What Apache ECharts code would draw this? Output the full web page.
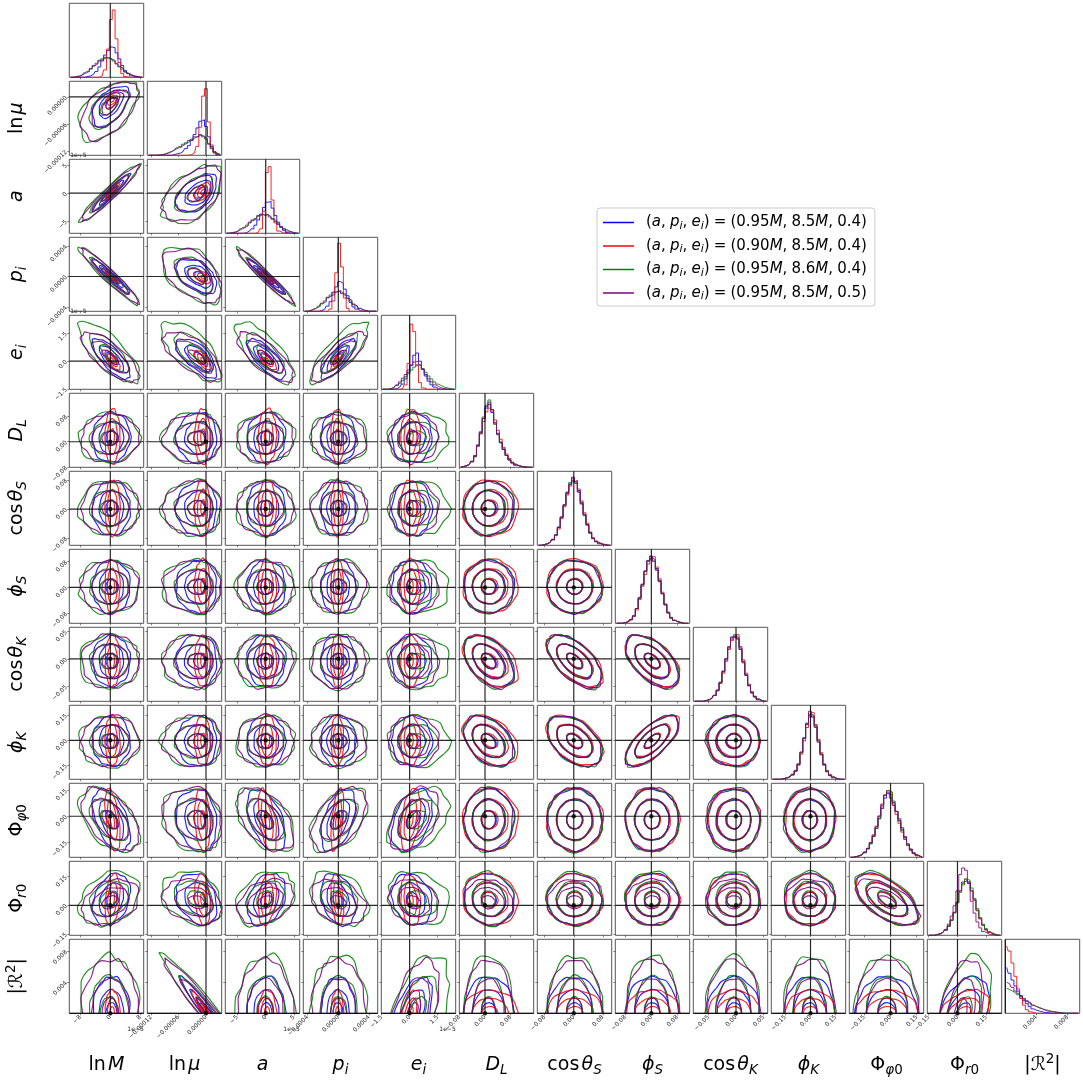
<!DOCTYPE html>
<html>
<head>
<meta charset="utf-8">
<style>html,body{margin:0;padding:0;background:#fff}#main{width:1083px;height:1083px}</style>
<script src="https://cdn.jsdelivr.net/npm/echarts@6/dist/echarts.min.js"></script>
</head>
<body>
<div id="main"></div>
<script>
// axis values are in the scaled units of the offset text (1e-5 etc)
var paramMin = [-10.93, -12.88, -7.14, -4.56, -1.52, -0.08, -0.1, -0.111, -0.0776, -0.234, -0.2365, -0.157, 0]
var paramMax = [8.9, 3.45, 6, 5.13, 2.47, 0.1516, 0.104, 0.118, 0.0576, 0.21, 0.19, 0.23, 9.55]
var truth = [0, 0, 0, 0, 0, 0, 0, 0, 0, 0, 0, 0, 0]
var tickValues = [[-8, 0, 8], [-12, -6, 0], [-5, 0, 5], [-4, 0, 4], [-1.5, 0, 1.5], [-0.08, 0, 0.08], [-0.08, 0, 0.08], [-0.08, 0, 0.08], [-0.05, 0, 0.05], [-0.15, 0, 0.15], [-0.15, 0, 0.15], [-0.15, 0, 0.15], [4, 8]]
var tickLabels = [
  ['−8', '0', '8'], ['−0.00012', '−0.00006', '0.00000'], ['−5', '0', '5'], ['−0.0004', '0.0000', '0.0004'],
  ['−1.5', '0.0', '1.5'], ['−0.08', '0.00', '0.08'], ['−0.08', '0.00', '0.08'], ['−0.08', '0.00', '0.08'],
  ['−0.05', '0.00', '0.05'], ['−0.15', '0.00', '0.15'], ['−0.15', '0.00', '0.15'], ['−0.15', '0.00', '0.15'], ['0.004', '0.008']
]
var axisTitles = [
  '{r|ln}{g| }{i|M}', '{r|ln}{g| }{i|μ}', '{i|a}', '{i|p}{s|i}', '{i|e}{s|i}', '{i|D}{s|L}',
  '{r|cos}{g| }{i|θ}{s|S}', '{i|ϕ}{s|S}', '{r|cos}{g| }{i|θ}{s|K}', '{i|ϕ}{s|K}',
  '{r|Φ}{s|φ}{t|0}', '{r|Φ}{s|r}{t|0}', '{r||ℛ}{u|2}{r||}'
]
var legendNames = ['(a, p_i, e_i) = (0.95M, 8.5M, 0.4)', '(a, p_i, e_i) = (0.90M, 8.5M, 0.4)', '(a, p_i, e_i) = (0.95M, 8.6M, 0.4)', '(a, p_i, e_i) = (0.95M, 8.5M, 0.5)']
var legendValues = [['0.95', '8.5', '0.4'], ['0.90', '8.5', '0.4'], ['0.95', '8.6', '0.4'], ['0.95', '8.5', '0.5']]
var colors = ['#0000ff', '#ff0000', '#008000', '#800080']

// histogram heights, percent of the panel, 26 bins across each axis
var histBlue = [
  [0,0,0,0,0,0,1,2,4,8,14,22,30,36,41,40,33,25,16,9,5,2,1,0,0,0],
  [0,0,0,0,0,0,0,0,0,1,2,3,5,9,13,20,28,37,46,48,39,25,12,4,1,0],
  [0,0,0,0,0,0,0,1,3,6,11,18,26,35,42,43,34,24,15,8,4,1,0,0,0,0],
  [0,0,0,0,0,0,1,3,7,13,22,33,40,38,30,21,12,6,3,1,0,0,0,0,0,0],
  [0,0,0,0,0,1,3,7,14,23,33,46,49,38,27,18,11,6,3,1,0,0,0,0,0,0],
  [0,1,2,4,8,16,30,48,66,80,85,74,60,46,34,24,16,10,6,3,2,1,0,0,0,0],
  [0,0,1,2,4,8,14,24,38,54,70,82,88,84,74,58,42,28,17,10,5,3,1,1,0,0],
  [0,0,0,1,2,5,10,20,34,52,70,84,88,86,74,58,40,25,14,7,4,2,1,0,0,0],
  [0,0,0,0,1,2,4,8,15,25,40,56,72,84,88,86,72,54,36,22,12,6,3,1,0,0],
  [0,0,0,0,1,2,3,6,11,20,36,55,74,88,86,72,52,34,20,11,6,3,1,0,0,0],
  [0,0,1,2,4,7,12,19,28,39,52,66,80,86,84,74,62,50,38,27,18,11,6,3,1,0],
  [0,0,0,1,2,4,7,12,20,31,44,60,72,74,70,60,48,34,23,14,8,4,2,1,0,0],
  [62,54,45,37,30,23,17,13,9,6,4,3,2,1,1,0,0,0,0,0,0,0,0,0,0,0]
]
var histRed = [
  [0,0,0,0,0,0,0,0,0,0,0,2,10,38,78,91,52,20,5,1,0,0,0,0,0,0],
  [0,0,0,0,0,0,0,0,0,0,0,0,0,0,0,1,3,12,38,80,90,45,14,3,0,0],
  [0,0,0,0,0,0,0,0,0,0,0,1,6,30,82,90,45,14,3,1,0,0,0,0,0,0],
  [0,0,0,0,0,0,0,0,0,3,14,52,92,60,18,4,0,0,0,0,0,0,0,0,0,0],
  [0,0,0,0,0,0,0,1,6,35,88,78,32,9,2,0,0,0,0,0,0,0,0,0,0,0],
  [0,1,2,4,8,15,29,45,62,75,80,76,64,50,38,27,18,12,7,4,2,1,1,0,0,0],
  [0,0,1,2,4,7,13,22,36,52,68,80,86,88,76,60,44,30,18,10,6,3,2,1,0,0],
  [0,0,0,1,2,4,9,18,32,50,66,80,86,90,76,60,42,26,15,8,4,2,1,0,0,0],
  [0,0,0,0,1,2,4,8,14,24,38,54,70,82,86,90,74,56,38,23,13,7,3,1,0,0],
  [0,0,0,0,1,2,3,6,11,19,34,52,70,84,90,74,54,36,21,12,6,3,1,0,0,0],
  [0,0,1,2,4,7,12,20,30,41,55,70,84,90,88,72,58,46,34,24,16,9,5,2,1,0],
  [0,0,0,1,2,4,7,13,21,31,45,60,70,76,72,60,47,33,22,13,7,4,2,1,0,0],
  [91,84,68,50,33,20,11,5,2,1,0,0,0,0,0,0,0,0,0,0,0,0,0,0,0,0]
]
var histGreen = [
  [0,0,1,2,3,5,8,11,15,19,22,25,26,26,25,22,19,15,11,8,5,3,2,1,0,0],
  [0,0,0,0,1,1,2,4,5,7,9,12,14,17,19,22,24,26,27,26,22,16,10,4,2,1],
  [0,0,1,2,3,5,8,11,14,17,20,23,25,25,25,23,20,16,13,9,6,4,2,1,0,0],
  [0,0,1,2,4,7,10,14,18,22,25,27,27,25,22,18,14,10,7,4,2,1,0,0,0,0],
  [0,0,0,1,2,5,8,12,17,21,26,30,33,32,28,23,18,14,10,7,5,3,2,1,0,0],
  [0,1,2,4,7,14,28,47,68,84,91,78,58,44,34,25,16,10,6,4,2,1,1,0,0,0],
  [0,0,1,2,4,8,14,25,38,54,72,85,91,84,72,56,40,27,16,9,5,3,1,0,0,0],
  [0,0,0,1,2,5,10,20,34,52,70,84,90,84,72,56,40,26,15,8,4,2,1,0,0,0],
  [0,0,0,0,1,2,4,8,15,25,40,57,73,86,90,85,70,53,35,21,12,6,3,1,0,0],
  [0,0,0,0,1,2,3,6,11,20,36,56,76,86,84,72,52,34,20,11,5,3,1,0,0,0],
  [0,0,1,2,3,6,11,18,28,39,53,68,84,90,88,76,62,49,36,25,16,10,5,3,1,0],
  [0,0,0,1,2,4,7,12,20,30,44,58,68,76,74,64,50,36,24,15,9,5,3,1,0,0],
  [34,32,30,28,25,22,19,16,14,11,9,8,6,5,4,3,2,2,1,1,0,0,0,0,0,0]
]
var histPurple = [
  [0,0,1,1,3,6,8,12,16,18,23,24,27,26,24,23,18,14,12,7,5,3,1,1,0,0],
  [0,0,0,0,0,1,2,3,5,7,10,11,15,16,20,21,25,25,28,25,23,15,9,5,2,1],
  [0,0,1,1,3,6,8,10,15,18,19,24,26,24,26,22,19,17,12,9,6,3,2,1,0,0],
  [0,0,1,3,4,6,11,13,19,21,26,26,28,24,23,17,15,9,7,4,2,1,0,0,0,0],
  [0,0,0,1,3,6,10,15,20,26,32,37,38,33,27,20,14,10,6,4,2,1,0,0,0,0],
  [0,1,2,4,8,15,30,46,66,82,88,78,60,45,33,24,16,10,6,3,2,1,0,0,0,0],
  [0,0,1,2,4,8,14,24,38,55,71,83,92,86,72,56,41,28,17,9,5,2,1,0,0,0],
  [0,0,0,1,2,5,10,20,35,53,71,85,91,84,72,57,40,25,14,7,4,2,1,0,0,0],
  [0,0,0,0,1,2,4,8,15,26,41,58,74,87,88,84,70,52,35,21,11,6,2,1,0,0],
  [0,0,0,0,1,2,4,7,12,21,37,56,75,92,84,70,50,33,19,10,5,2,1,0,0,0],
  [0,0,1,2,4,7,12,20,30,42,56,72,84,88,80,70,62,52,40,28,18,11,6,3,1,0],
  [0,0,0,1,2,4,8,15,26,40,60,82,91,88,72,46,30,18,10,5,3,1,1,0,0,0],
  [42,40,35,30,27,24,20,17,14,11,9,7,6,4,3,2,2,1,1,0,0,0,0,0,0,0]
]

// outer contour read per parameter: centre, half width on the low side, half width on the high side
var centreBlue = [0.3, -1.1, 0.1, -0.05, 0.15, 0.012, 0.002, 0.002, -0.003, -0.005, -0.02, 0.03, 0]
var lowBlue = [5, 5.5, 3.4, 2.2, 1.1, 0.078, 0.075, 0.082, 0.048, 0.15, 0.18, 0.135, 4.7]
var highBlue = [5, 3.4, 3.4, 2.3, 1.05, 0.08, 0.075, 0.082, 0.046, 0.15, 0.175, 0.135, 4.7]
var centreRed = [0.5, -0.6, 0.2, -0.1, 0.03, 0.015, 0.003, 0.004, -0.003, 0, -0.02, 0.03, 0]
var lowRed = [1.9, 1.9, 1.5, 0.85, 0.5, 0.085, 0.078, 0.084, 0.048, 0.15, 0.18, 0.135, 3]
var highRed = [2.1, 1.5, 1.7, 0.8, 0.55, 0.088, 0.078, 0.084, 0.046, 0.15, 0.18, 0.135, 3]
var centreGreen = [-0.3, -1.75, -0.1, 0.05, 0.4, 0.01, 0.002, 0.002, -0.004, -0.005, -0.02, 0.035, 0]
var lowGreen = [8, 8, 5.1, 3.7, 1.55, 0.075, 0.075, 0.082, 0.05, 0.155, 0.185, 0.14, 7.4]
var highGreen = [8, 5, 5.2, 3.8, 1.7, 0.08, 0.075, 0.082, 0.047, 0.15, 0.18, 0.14, 7.4]
var centrePurple = [0, -1.7, -0.05, 0, 0.2, 0.01, 0.002, 0.002, -0.004, -0.006, -0.02, 0.015, 0]
var lowPurple = [7.6, 7.8, 4.9, 3.5, 1.3, 0.075, 0.074, 0.081, 0.05, 0.15, 0.18, 0.115, 6.9]
var highPurple = [7.6, 5, 4.9, 3.6, 1.35, 0.077, 0.074, 0.081, 0.048, 0.155, 0.185, 0.12, 6.9]

// tilt of the contours in each lower triangle panel, by row then column
var tilt = [
  [],
  [0.55],
  [0.96, 0.5],
  [-0.96, -0.5, -0.97],
  [-0.75, -0.7, -0.75, 0.8],
  [0.05, 0, 0.05, -0.05, 0.05],
  [0, 0, 0, 0, 0, 0],
  [0, 0, 0, 0, 0, 0, 0],
  [0, 0, 0, 0, 0, -0.45, -0.6, -0.55],
  [0, 0, 0, 0, 0, -0.4, -0.45, 0.7, 0],
  [-0.5, -0.15, -0.5, 0.5, 0.4, 0, 0, 0, 0, 0],
  [0.3, -0.25, 0.3, -0.3, -0.2, -0.1, 0, 0, 0, 0, -0.6],
  [0, -0.97, 0, 0, 0.5, 0, 0, 0, 0, 0, 0, 0.4]
]
var ringLevels = [0.29, 0.65, 1]

// outline radii around each ring, 24 directions
var outlineBlue = [1.02, 0.97, 1, 1.05, 0.98, 1.03, 0.96, 1.01, 1.05, 0.99, 0.95, 1.02, 1.04, 0.98, 1, 0.96, 1.03, 1.06, 0.99, 0.97, 1.02, 1, 0.95, 1.03]
var outlineRed = [0.98, 1.03, 1, 0.96, 1.04, 1.01, 0.97, 1.05, 0.99, 1.02, 0.96, 1, 1.06, 0.98, 0.95, 1.02, 1.03, 0.97, 1.01, 1.04, 0.98, 0.96, 1.03, 1]
var outlineGreen = [1.05, 0.98, 1.03, 0.95, 1.07, 1, 0.96, 1.04, 1.08, 0.97, 0.94, 1.02, 1.06, 1, 0.95, 0.98, 1.05, 1.09, 0.97, 0.95, 1.03, 1, 0.94, 1.06]
var outlinePurple = [0.97, 1.04, 0.99, 1.06, 0.96, 1.02, 1.05, 0.95, 1, 1.07, 0.97, 0.94, 1.03, 1.05, 0.98, 0.96, 1.04, 0.99, 1.06, 1.01, 0.95, 1.03, 0.98, 1.02]

// the |R^2| against ln mu panel is a one sided band
var bandCentre = [0.3, 0.1, 0.8, 0.6]
var bandWidth = [5.8, 3.3, 10.2, 9.6]

var centres = [centreBlue, centreRed, centreGreen, centrePurple]
var lows = [lowBlue, lowRed, lowGreen, lowPurple]
var highs = [highBlue, highRed, highGreen, highPurple]
var hists = [histBlue, histRed, histGreen, histPurple]
var outlines = [outlineBlue, outlineRed, outlineGreen, outlinePurple]

var n = paramMin.length
var left0 = 69.3
var top0 = 3.3
var pitch = 78
var boxW = 74.4
var boxH = 74

var grids = []
var xAxes = []
var yAxes = []
var series = []
var FONT = 'DejaVu Sans'

function makeAxis (gridIndex, lo, hi, ticks, labels, showLabel) {
  return {
    type: 'value',
    gridIndex: gridIndex,
    min: lo,
    max: hi,
    axisLine: { show: false, onZero: false },
    splitLine: { show: false },
    axisTick: { show: ticks.length > 0, length: 2, customValues: ticks, lineStyle: { color: '#333', width: 0.6 } },
    axisLabel: {
      show: showLabel,
      customValues: ticks,
      rotate: 45,
      fontSize: 6,
      fontFamily: FONT,
      color: '#222',
      margin: 3,
      formatter: function (v) {
        var k = ticks.indexOf(v)
        return k >= 0 ? labels[k] : ''
      }
    }
  }
}

function ringData (row, col, c) {
  var data = []
  var cx = centres[c][col]
  var cy = centres[c][row]
  var xLo = lows[c][col]
  var xHi = highs[c][col]
  var yLo = lows[c][row]
  var yHi = highs[c][row]
  if (row === 12 && col === 1) {
    cx = bandCentre[c]
    xLo = bandWidth[c]
    xHi = bandWidth[c]
  }
  var rho = tilt[row][col]
  var side = Math.sqrt(1 - rho * rho)
  var shape = outlines[c]
  var shift = (col * 7 + row * 11) % 24
  var rough = col >= 5 ? 0.7 : 1
  for (var l = 0; l < ringLevels.length; l++) {
    var level = ringLevels[l]
    var amp = rough * (l === 2 ? 1 : 0.6)
    for (var k = 0; k <= 24; k++) {
      var r = 1 + (shape[(k + shift + l * 5) % 24] - 1) * amp
      var t = k / 24 * 2 * Math.PI
      var u = r * level * Math.cos(t)
      var v = r * level * (rho * Math.cos(t) + side * Math.sin(t))
      data.push([cx + u * (u < 0 ? xLo : xHi), cy + v * (v < 0 ? yLo : yHi)])
    }
    data.push([NaN, NaN])
  }
  return data
}

for (var row = 0; row < n; row++) {
  for (var col = 0; col <= row; col++) {
    var idx = grids.length
    grids.push({
      show: true,
      left: left0 + pitch * col,
      top: top0 + pitch * row,
      width: boxW,
      height: boxH,
      borderColor: '#555',
      borderWidth: 1,
      containLabel: false
    })
    var bottom = row === n - 1
    xAxes.push(makeAxis(idx, paramMin[col], paramMax[col], tickValues[col], tickLabels[col], bottom))
    if (col === row) {
      yAxes.push(makeAxis(idx, 0, 100, [], [], false))
      for (var c = 0; c < 4; c++) {
        var step = (paramMax[col] - paramMin[col]) / 26
        var points = hists[c][col].map(function (h, k) { return [paramMin[col] + (k + 0.5) * step, h] })
        series.push({
          name: legendNames[c],
          type: 'line',
          xAxisIndex: idx,
          yAxisIndex: idx,
          data: points,
          step: 'middle',
          symbol: 'none',
          lineStyle: { color: colors[c], width: 1, opacity: 0.85 },
          itemStyle: { color: colors[c] },
          silent: true,
          z: 2
        })
      }
      series.push({
        type: 'line', xAxisIndex: idx, yAxisIndex: idx, symbol: 'none', silent: true, z: 5,
        data: [[truth[col], 0], [truth[col], 100]],
        lineStyle: { color: '#000', width: 1.2, opacity: 0.85 }
      })
    } else {
      yAxes.push(makeAxis(idx, paramMin[row], paramMax[row], tickValues[row], tickLabels[row], col === 0))
      for (var c2 = 0; c2 < 4; c2++) {
        series.push({
          name: legendNames[c2],
          type: 'line',
          xAxisIndex: idx,
          yAxisIndex: idx,
          data: ringData(row, col, c2),
          symbol: 'none',
          connectNulls: false,
          smooth: 0.3,
          clip: true,
          lineStyle: { color: colors[c2], width: 1.15, opacity: 0.88 },
          itemStyle: { color: colors[c2] },
          silent: true,
          z: 2
        })
      }
      series.push({
        type: 'line', xAxisIndex: idx, yAxisIndex: idx, symbol: 'none', silent: true, z: 5,
        connectNulls: false,
        data: [[truth[col], paramMin[row]], [truth[col], paramMax[row]], [NaN, NaN], [paramMin[col], truth[row]], [paramMax[col], truth[row]]],
        lineStyle: { color: '#000', width: 1.2, opacity: 0.85 }
      })
      if (row >= 5) {
        series.push({
          type: 'scatter', xAxisIndex: idx, yAxisIndex: idx, silent: true, z: 6, clip: true,
          symbolSize: 4.5,
          data: [[truth[col], truth[row]]],
          itemStyle: { color: '#000' }
        })
      }
    }
  }
}

var titleRich = {
  r: { fontFamily: FONT, fontSize: 19, color: '#000' },
  g: { fontFamily: FONT, fontSize: 7, color: '#000' },
  i: { fontFamily: FONT, fontSize: 19, fontStyle: 'italic', color: '#000' },
  s: { fontFamily: FONT, fontSize: 13.5, fontStyle: 'italic', color: '#000', padding: [11, 0, 0, 0] },
  t: { fontFamily: FONT, fontSize: 13.5, color: '#000', padding: [11, 0, 0, 0] },
  u: { fontFamily: FONT, fontSize: 13.5, color: '#000', padding: [0, 0, 11, 0] }
}
var graphics = []
for (var p = 0; p < n; p++) {
  graphics.push({
    type: 'text', x: left0 + pitch * p + boxW / 2, y: 1065, silent: true,
    style: { text: axisTitles[p], rich: titleRich, align: 'center', verticalAlign: 'middle' }
  })
  if (p > 0) {
    graphics.push({
      type: 'text', x: 17, y: top0 + pitch * p + boxH / 2, rotation: Math.PI / 2, silent: true,
      style: { text: axisTitles[p], rich: titleRich, align: 'center', verticalAlign: 'middle' }
    })
  }
}
var offsetX = [0, 2, 4]
offsetX.forEach(function (col) {
  graphics.push({
    type: 'text', x: left0 + pitch * col + boxW, y: 1029, silent: true,
    style: { text: '1e−5', fontFamily: FONT, fontSize: 6, fill: '#222', align: 'right', verticalAlign: 'middle' }
  })
})
var offsetY = [2, 4]
offsetY.forEach(function (row) {
  graphics.push({
    type: 'text', x: left0 + 1, y: top0 + pitch * row - 3.5, silent: true,
    style: { text: '1e−5', fontFamily: FONT, fontSize: 6, fill: '#222', align: 'left', verticalAlign: 'middle' }
  })
})

var chart = echarts.init(document.getElementById('main'), null, { renderer: 'canvas' })
chart.setOption({
  animation: false,
  backgroundColor: '#fff',
  tooltip: { show: false },
  grid: grids,
  xAxis: xAxes,
  yAxis: yAxes,
  series: series,
  graphic: { elements: graphics },
  legend: {
    left: 597,
    top: 208,
    orient: 'vertical',
    data: legendNames,
    selectedMode: false,
    icon: 'rect',
    backgroundColor: '#fff',
    borderColor: '#ccc',
    borderWidth: 1,
    borderRadius: 3,
    padding: [7, 8, 4, 6],
    itemWidth: 31,
    itemHeight: 1.5,
    itemGap: 7,
    textStyle: {
      fontFamily: FONT,
      fontSize: 15,
      color: '#000',
      padding: [0, 0, 0, 7],
      rich: {
        n: { fontFamily: FONT, fontSize: 15, color: '#000' },
        h: { fontFamily: FONT, fontSize: 13, color: '#000' },
        i: { fontFamily: FONT, fontSize: 15, fontStyle: 'italic', color: '#000' },
        s: { fontFamily: FONT, fontSize: 11, fontStyle: 'italic', color: '#000', padding: [7, 0, 0, 0] }
      }
    },
    formatter: function (name) {
      var v = legendValues[legendNames.indexOf(name)]
      return '{n|(}{i|a}{n|,}{h| }{i|p}{s|i}{n|,}{h| }{i|e}{s|i}{n|)}{h| }{n|=}{h| }{n|(' + v[0] + '}{i|M}{n|,}{h| }{n|' + v[1] + '}{i|M}{n|,}{h| }{n|' + v[2] + ')}'
    }
  }
})
</script>
</body>
</html>
